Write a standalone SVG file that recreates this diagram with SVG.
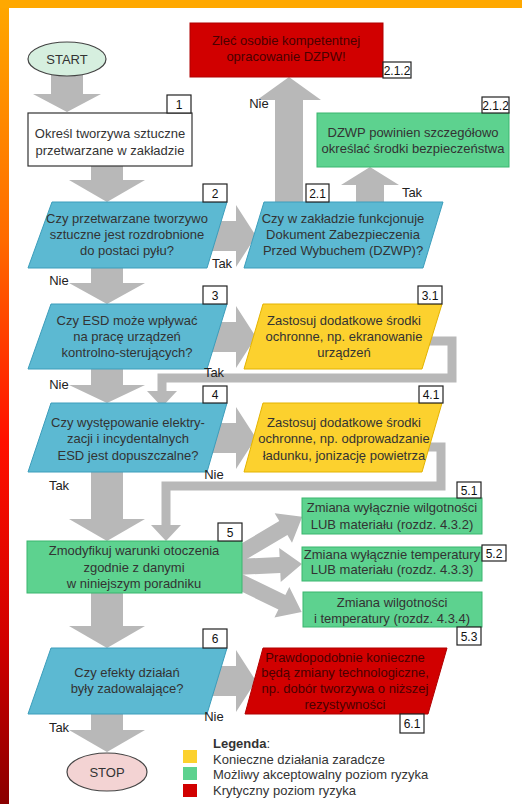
<svg xmlns="http://www.w3.org/2000/svg" width="522" height="804" viewBox="0 0 522 804">
<defs>
<linearGradient id="lg" x1="0" y1="0" x2="0" y2="1">
<stop offset="0" stop-color="#ffa800"/>
<stop offset="0.3" stop-color="#ff6a00"/>
<stop offset="0.55" stop-color="#ff1000"/>
<stop offset="0.8" stop-color="#d00000"/>
<stop offset="1" stop-color="#8a0000"/>
</linearGradient>
<style>
.t{font-family:"Liberation Sans",Arial,sans-serif;font-size:13px;fill:#333;text-anchor:middle}
.l{font-family:"Liberation Sans",Arial,sans-serif;font-size:13px;fill:#222;text-anchor:middle}
.lg{font-family:"Liberation Sans",Arial,sans-serif;font-size:13px;fill:#333}
.rt{fill:#4a0000}
.n{font-family:"Liberation Sans",Arial,sans-serif;font-size:12px;fill:#111;text-anchor:middle}
.nb{fill:#fff;stroke:#222;stroke-width:1.2}
.dec{fill:#5cb9d2;stroke:#3c9dbb;stroke-width:1}
.yel{fill:#fcd12e;stroke:#e3b300;stroke-width:1}
.grn{fill:#5dd28f;stroke:#3ab66f;stroke-width:1}
.red{fill:#d10000;stroke:#b00000;stroke-width:1}
.arr{fill:#b8b8b8}
.ln{fill:none;stroke:#b8b8b8;stroke-width:9}
</style>
</defs>
<rect x="0" y="0" width="522" height="804" fill="#fff"/>
<rect x="0" y="0" width="9" height="804" fill="url(#lg)"/>
<rect x="0" y="0" width="522" height="8" fill="#ffa800"/>

<g id="connectors">
<polygon class="arr" points="51,75 83,75 83,94 101,94 67,112 33,94 51,94"/>
<polygon class="arr" points="91,166 123,166 123,180 145,180 107,202 69,180 91,180"/>
<polygon class="arr" points="91,268 123,268 123,283 145,283 107,304 69,283 91,283"/>
<polygon class="arr" points="91,369 123,369 123,385 145,385 107,403 69,385 91,385"/>
<polygon class="arr" points="91,472 123,472 123,519 145,519 107,541 69,519 91,519"/>
<polygon class="arr" points="91,593 123,593 123,626 145,626 107,648 69,626 91,626"/>
<polygon class="arr" points="91,714 123,714 123,730 145,730 107,752 69,730 91,730"/>
<polygon class="arr" points="205,221 236,221 236,205 256,236 236,267 236,251 205,251"/>
<polygon class="arr" points="205,322 236,322 236,306 256,337 236,368 236,352 205,352"/>
<polygon class="arr" points="205,423 236,423 236,407 256,438 236,469 236,453 205,453"/>
<polygon class="arr" points="205,666 236,666 236,650 256,681 236,712 236,696 205,696"/>
<polygon class="arr" points="275,205 303,205 303,100 321,100 289,77 257,100 275,100"/>
<polygon class="arr" points="356,205 384,205 384,185 399,185 370,167 341,185 356,185"/>
<path class="ln" d="M420 341 H452 V378 H162 V393"/>
<polygon class="arr" points="147,391 177,391 162,407"/>
<path class="ln" d="M420 447 H441 V486 H166 V527"/>
<polygon class="arr" points="151,525 181,525 166,541"/>
<g transform="translate(236,556) rotate(-30.6)"><polygon class="arr" points="0,-8 55,-8 55,-17 77,0 55,17 55,8 0,8"/></g>
<g transform="translate(236,567) rotate(-2.6)"><polygon class="arr" points="0,-8 44,-8 44,-17 66,0 44,17 44,8 0,8"/></g>
<g transform="translate(236,580) rotate(25.9)"><polygon class="arr" points="0,-8 51,-8 51,-17 73,0 51,17 51,8 0,8"/></g>
</g>

<g id="start">
<ellipse cx="67" cy="59" rx="39" ry="17" fill="#d6efdf" stroke="#444" stroke-width="1.2"/>
<text class="t" x="67" y="64">START</text>
</g>

<g id="n1">
<rect x="28" y="113" width="164" height="53" fill="#fff" stroke="#333" stroke-width="1.2"/>
<text class="t" x="110" y="138">Określ tworzywa sztuczne</text>
<text class="t" x="110" y="155">przetwarzane w zakładzie</text>
<rect class="nb" x="167" y="95" width="24" height="18"/><text class="n" x="179" y="109">1</text>
</g>

<g id="n212a">
<rect class="red" x="190" y="23" width="193" height="54"/>
<text class="t rt" x="286" y="45">Zleć osobie kompetentnej</text>
<text class="t rt" x="286" y="61">opracowanie DZPW!</text>
<rect class="nb" x="383" y="62" width="28" height="16"/><text class="n" x="397" y="75">2.1.2</text>
</g>

<g id="n212b">
<rect class="grn" x="317" y="113" width="192" height="54"/>
<text class="t" x="413" y="137">DZWP powinien szczegółowo</text>
<text class="t" x="413" y="153">określać środki bezpieczeństwa</text>
<rect class="nb" x="482" y="97" width="27" height="16"/><text class="n" x="495.5" y="110">2.1.2</text>
</g>

<g id="n2">
<polygon class="dec" points="52,202 227,202 207,268 28,268"/>
<text class="t" x="127" y="223">Czy przetwarzane tworzywo</text>
<text class="t" x="127" y="239">sztuczne jest rozdrobnione</text>
<text class="t" x="127" y="255">do postaci pyłu?</text>
<rect class="nb" x="203" y="184" width="24" height="18"/><text class="n" x="215" y="198">2</text>
</g>

<g id="n21">
<polygon class="dec" points="264,202 443,202 423,268 244,268"/>
<text class="t" x="343" y="223">Czy w zakładzie funkcjonuje</text>
<text class="t" x="343" y="239">Dokument Zabezpieczenia</text>
<text class="t" x="343" y="255">Przed Wybuchem (DZWP)?</text>
<rect class="nb" x="306" y="184" width="23" height="18"/><text class="n" x="317.5" y="198">2.1</text>
</g>

<g id="n3">
<polygon class="dec" points="51,304 227,304 207,369 28,369"/>
<text class="t" x="127" y="325">Czy ESD może wpływać</text>
<text class="t" x="127" y="341">na pracę urządzeń</text>
<text class="t" x="127" y="357">kontrolno-sterujących?</text>
<rect class="nb" x="203" y="286" width="24" height="18"/><text class="n" x="215" y="300">3</text>
</g>

<g id="n31">
<polygon class="yel" points="263,304 442,304 422,369 244,369"/>
<text class="t" x="344" y="325">Zastosuj dodatkowe środki</text>
<text class="t" x="344" y="341">ochronne, np. ekranowanie</text>
<text class="t" x="344" y="357">urządzeń</text>
<rect class="nb" x="418" y="286" width="24" height="18"/><text class="n" x="430" y="300">3.1</text>
</g>

<g id="n4">
<polygon class="dec" points="51,403 227,403 207,472 28,472"/>
<text class="t" x="128" y="427">Czy występowanie elektry-</text>
<text class="t" x="128" y="443">zacji i incydentalnych</text>
<text class="t" x="128" y="460">ESD jest dopuszczalne?</text>
<rect class="nb" x="203" y="386" width="24" height="17"/><text class="n" x="215" y="399">4</text>
</g>

<g id="n41">
<polygon class="yel" points="263,403 442,403 422,472 244,472"/>
<text class="t" x="344" y="427">Zastosuj dodatkowe środki</text>
<text class="t" x="344" y="443">ochronne, np. odprowadzanie</text>
<text class="t" x="344" y="460">ładunku, jonizację powietrza</text>
<rect class="nb" x="419" y="386" width="24" height="17"/><text class="n" x="431" y="399">4.1</text>
</g>

<g id="n5">
<rect class="grn" x="27" y="541" width="215" height="52"/>
<text class="t" x="134" y="555">Zmodyfikuj warunki otoczenia</text>
<text class="t" x="134" y="572">zgodnie z danymi</text>
<text class="t" x="134" y="588">w niniejszym poradniku</text>
<rect class="nb" x="218" y="523" width="24" height="18"/><text class="n" x="230" y="537">5</text>
</g>

<g id="n51">
<rect class="grn" x="302" y="498" width="180" height="36"/>
<text class="t" x="392" y="512">Zmiana wyłącznie wilgotności</text>
<text class="t" x="392" y="529">LUB materiału (rozdz. 4.3.2)</text>
<rect class="nb" x="457" y="482" width="24" height="16"/><text class="n" x="469" y="495">5.1</text>
</g>

<g id="n52">
<rect class="grn" x="302" y="547" width="180" height="34"/>
<text class="t" x="392" y="559">Zmiana wyłącznie temperatury</text>
<text class="t" x="392" y="574">LUB materiału (rozdz. 4.3.3)</text>
<rect class="nb" x="482" y="545" width="24" height="16"/><text class="n" x="494" y="558">5.2</text>
</g>

<g id="n53">
<rect class="grn" x="303" y="592" width="179" height="35"/>
<text class="t" x="392" y="607">Zmiana wilgotności</text>
<text class="t" x="392" y="623">i temperatury (rozdz. 4.3.4)</text>
<rect class="nb" x="457" y="627" width="24" height="18"/><text class="n" x="469" y="641">5.3</text>
</g>

<g id="n6">
<polygon class="dec" points="51,648 227,648 207,714 28,714"/>
<text class="t" x="127" y="677">Czy efekty działań</text>
<text class="t" x="127" y="693">były zadowalające?</text>
<rect class="nb" x="203" y="629" width="24" height="19"/><text class="n" x="215" y="643">6</text>
</g>

<g id="n61">
<polygon class="red" points="263,648 447,648 428,714 245,714"/>
<text class="t rt" x="345" y="662">Prawdopodobnie konieczne</text>
<text class="t rt" x="345" y="677">będą zmiany technologiczne,</text>
<text class="t rt" x="345" y="693">np. dobór tworzywa o niższej</text>
<text class="t rt" x="345" y="709">rezystywności</text>
<rect class="nb" x="400" y="714" width="24" height="19"/><text class="n" x="412" y="728">6.1</text>
</g>

<g id="stop">
<ellipse cx="107" cy="772" rx="40" ry="19" fill="#f3d3d3" stroke="#444" stroke-width="1.2"/>
<text class="t" x="107" y="777">STOP</text>
</g>

<g id="labels">
<text class="l" x="259" y="108">Nie</text>
<text class="l" x="412" y="197">Tak</text>
<text class="l" x="222" y="268">Tak</text>
<text class="l" x="59" y="285">Nie</text>
<text class="l" x="214" y="377">Tak</text>
<text class="l" x="59" y="389">Nie</text>
<text class="l" x="214" y="479">Nie</text>
<text class="l" x="59" y="490">Tak</text>
<text class="l" x="214" y="721">Nie</text>
<text class="l" x="59" y="732">Tak</text>
</g>

<g id="legend">
<text class="lg" x="213" y="748"><tspan font-weight="bold">Legenda</tspan>:</text>
<rect x="183" y="750" width="14" height="13" fill="#fcd12e"/>
<text class="lg" x="213" y="764">Konieczne działania zaradcze</text>
<rect x="183" y="767" width="14" height="13" fill="#5dd28f"/>
<text class="lg" x="213" y="779">Możliwy akceptowalny poziom ryzyka</text>
<rect x="183" y="784" width="14" height="13" fill="#d10000"/>
<text class="lg" x="213" y="795">Krytyczny poziom ryzyka</text>
</g>
</svg>
